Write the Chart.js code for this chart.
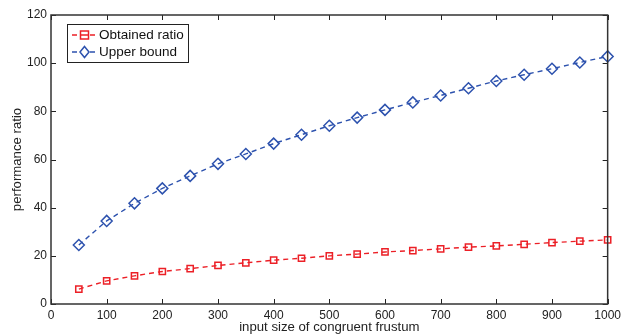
<!DOCTYPE html>
<html>
<head>
<meta charset="utf-8">
<script src="https://cdn.jsdelivr.net/npm/chart.js@4"></script>
<style>
html,body{margin:0;padding:0;background:#fff;}
#wrap{width:625px;height:335px;position:relative;}
</style>
</head>
<body>
<div id="wrap"><canvas id="c" width="625" height="335"></canvas></div>
<script>
const sizes = [50,100,150,200,250,300,350,400,450,500,550,600,650,700,750,800,850,900,950,1000];
const obtainedRatio = [6.2,9.6,11.7,13.5,14.7,16.0,17.1,18.2,19.0,20.0,20.7,21.6,22.2,22.9,23.6,24.1,24.8,25.5,26.1,26.6];
const upperBound = [24.5,34.5,41.8,48.0,53.2,58.2,62.3,66.6,70.3,74.0,77.4,80.6,83.7,86.6,89.6,92.6,95.2,97.7,100.3,102.8];
const xTicks = [0,100,200,300,400,500,600,700,800,900,1000];
const yTicks = [0,20,40,60,80,100,120];
const seriesNames = ['Obtained ratio','Upper bound'];
const xTitle = 'input size of congruent frustum';
const yTitle = 'performance ratio';

const RED = '#ec2027';
const BLUE = '#2d52ae';
const FONT = '"Liberation Sans", Arial, sans-serif';

const boxTicks = {
  id:'boxTicks',
  afterDatasetsDraw(chart){
    const {ctx, chartArea:a, scales:{x,y}} = chart;
    ctx.save();
    ctx.strokeStyle = '#222';
    ctx.lineWidth = 1;
    ctx.beginPath();
    xTicks.forEach(v=>{
      const px = Math.round(x.getPixelForValue(v))+0.5;
      ctx.moveTo(px, a.bottom); ctx.lineTo(px, a.bottom-5);
      ctx.moveTo(px, a.top); ctx.lineTo(px, a.top+5);
    });
    yTicks.forEach(v=>{
      const py = Math.round(y.getPixelForValue(v))+0.5;
      ctx.moveTo(a.left, py); ctx.lineTo(a.left+5, py);
      ctx.moveTo(a.right, py); ctx.lineTo(a.right-5, py);
    });
    ctx.stroke();
    ctx.lineWidth = 1.5;
    ctx.strokeStyle = '#333';
    ctx.strokeRect(a.left, a.top, a.right-a.left, a.bottom-a.top);
    ctx.restore();
  }
};

const boxLegend = {
  id:'boxLegend',
  afterDraw(chart){
    const ctx = chart.ctx;
    const bx=67, by=24, bw=121, bh=38;
    ctx.save();
    ctx.fillStyle='#fff';
    ctx.fillRect(bx,by,bw,bh);
    ctx.strokeStyle='#222';
    ctx.lineWidth=1;
    ctx.strokeRect(bx+0.5,by+0.5,bw,bh);
    const rows=[by+11, by+28];
    chart.data.datasets.forEach((ds,i)=>{
      const yy=rows[i];
      ctx.strokeStyle=ds.borderColor;
      ctx.lineWidth=1.3;
      ctx.setLineDash([5,4]);
      ctx.beginPath(); ctx.moveTo(72,yy); ctx.lineTo(97,yy); ctx.stroke();
      ctx.setLineDash([]);
      ctx.fillStyle='#fff';
      ctx.lineWidth=1.5;
      if(i===0){
        ctx.fillRect(80.5,yy-4,8,8);
        ctx.strokeRect(80.5,yy-4,8,8);
        ctx.beginPath(); ctx.moveTo(80.5,yy); ctx.lineTo(88.5,yy); ctx.stroke();
      } else {
        ctx.beginPath();
        ctx.moveTo(84.5,yy-5.5); ctx.lineTo(89,yy); ctx.lineTo(84.5,yy+5.5); ctx.lineTo(80,yy); ctx.closePath();
        ctx.fill(); ctx.stroke();
      }
      ctx.fillStyle='#111';
      ctx.font='13.5px '+FONT;
      ctx.textBaseline='middle';
      ctx.textAlign='left';
      ctx.fillText(ds.label, 99, yy+0.5);
    });
    ctx.restore();
  }
};

new Chart(document.getElementById('c'), {
  type:'line',
  data:{
    datasets:[
      {label:seriesNames[0], data:sizes.map((s,i)=>({x:s,y:obtainedRatio[i]})),
       borderColor:RED, backgroundColor:'#fff', borderWidth:1.4, borderDash:[5,4],
       pointStyle:'rect', pointRadius:4.4, pointBorderWidth:1.5, pointBorderColor:RED, pointBackgroundColor:'rgba(255,255,255,0)',
       tension:0, clip:false},
      {label:seriesNames[1], data:sizes.map((s,i)=>({x:s,y:upperBound[i]})),
       borderColor:BLUE, backgroundColor:'#fff', borderWidth:1.4, borderDash:[5,4],
       pointStyle:'rectRot', pointRadius:5.5, pointBorderWidth:1.5, pointBorderColor:BLUE, pointBackgroundColor:'rgba(255,255,255,0)',
       tension:0, clip:false}
    ]
  },
  options:{
    responsive:false, animation:false, devicePixelRatio:1,
    layout:{padding:{top:15,right:16,left:0,bottom:0}},
    plugins:{legend:{display:false}, tooltip:{enabled:false}},
    scales:{
      x:{type:'linear', min:0, max:1000,
        afterBuildTicks(s){ s.ticks = xTicks.map(v=>({value:v})); },
        afterFit(s){ s.height = 31; },
        grid:{display:false, drawTicks:false}, border:{display:false},
        ticks:{color:'#222', font:{family:FONT,size:12}, padding:4, maxRotation:0, autoSkip:false, callback:v=>String(v)},
        title:{display:true, text:xTitle, color:'#222', font:{family:FONT,size:13.2}, padding:{top:-2,bottom:0}}
      },
      y:{type:'linear', min:0, max:120,
        afterBuildTicks(s){ s.ticks = yTicks.map(v=>({value:v})); },
        afterFit(s){ s.width = 51; },
        grid:{display:false, drawTicks:false}, border:{display:false},
        ticks:{color:'#222', font:{family:FONT,size:12}, padding:4, autoSkip:false, callback:v=>String(v)},
        title:{display:true, text:yTitle, color:'#222', font:{family:FONT,size:13.2}, padding:{top:9,bottom:0}}
      }
    }
  },
  plugins:[boxTicks, boxLegend]
});
</script>
</body>
</html>
